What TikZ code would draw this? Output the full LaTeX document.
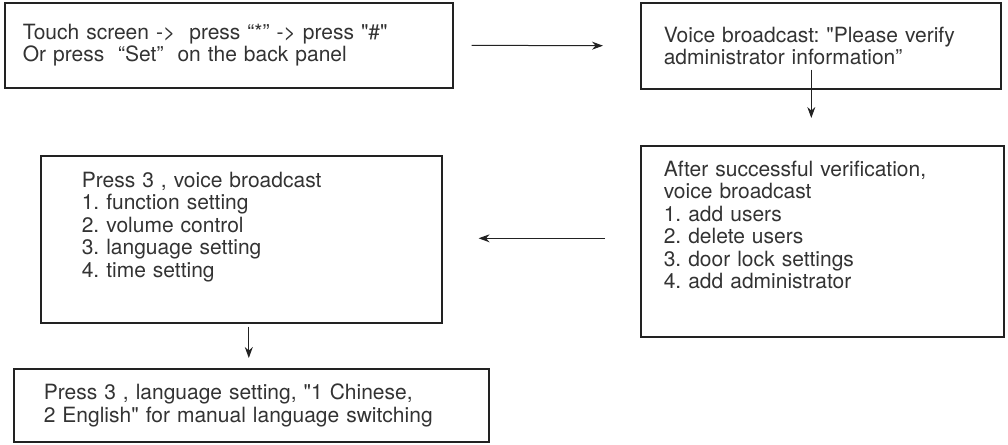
\documentclass[tikz,border=0pt]{standalone}
\usepackage{fontspec}
\setmainfont{TeX Gyre Heros}[Ligatures=TeXOff]
\usepackage{tikz}
\usepackage{xcolor}
\usetikzlibrary{arrows.meta}
\definecolor{ink}{HTML}{333333}
\definecolor{edge}{HTML}{222222}
\tikzset{box/.style={draw=edge, line width=1.6pt, anchor=north west, align=left,
   inner xsep=#1, inner ysep=4pt, text=ink, font=\fontsize{21}{22.5}\selectfont},
 box/.default=23pt,
 flow/.style={draw=edge, line width=1pt, -{Stealth[length=11pt,width=8pt]}},
}
\frenchspacing

\begin{document}
\begin{tikzpicture}[x=1pt,y=-1pt]
    \useasboundingbox (0,0) rectangle (1008,444);
    \node[box=18pt, minimum width=448pt, minimum height=85pt, text width=412pt] (touch) at (4,2)
        {Touch screen ->\ \ press “*” -> press "\#"\\Or press\ \ “Set”\ \ on the back panel};
    \node[box, minimum width=360pt, minimum height=86pt, text width=314pt] (verify) at (640,2)
        {Voice broadcast: "Please verify\\administrator information”};
    \node[box, minimum width=363pt, minimum height=191pt, text width=317pt,
        text height=26.5pt, text depth=156.5pt] (menu) at (640,145)
        {After successful verification,\\voice broadcast\\1. add users\\2. delete users\\3. door lock settings\\4. add administrator};
    \node[box=41pt, minimum width=401pt, minimum height=167pt, text width=319pt,
        text height=27.5pt, text depth=131.5pt] (system) at (40,155)
        {Press 3 , voice broadcast\\1. function setting\\2. volume control\\3. language setting\\4. time setting};
    \node[box=30pt, minimum width=475pt, minimum height=73pt, text width=415pt] (language) at (13,368)
        {Press 3 , language setting, "1 Chinese,\\2 English" for manual language switching};
    \draw[flow, shorten <=18pt, shorten >=37pt] (touch.east) -- (verify.west);
    \draw[flow, shorten <=-20pt, shorten >=27pt] ([xshift=-11pt]menu.north |- verify.south) -- ([xshift=-11pt]menu.north);
    \draw[flow, shorten <=35pt, shorten >=36pt] ([yshift=3pt]menu.west) -- ([yshift=3pt]menu.west -| system.east);
    \draw[flow, shorten <=3pt, shorten >=10pt] ([xshift=7.5pt]system.south) -- ([xshift=7.5pt]system.south |- language.north);
\end{tikzpicture}
\end{document}
